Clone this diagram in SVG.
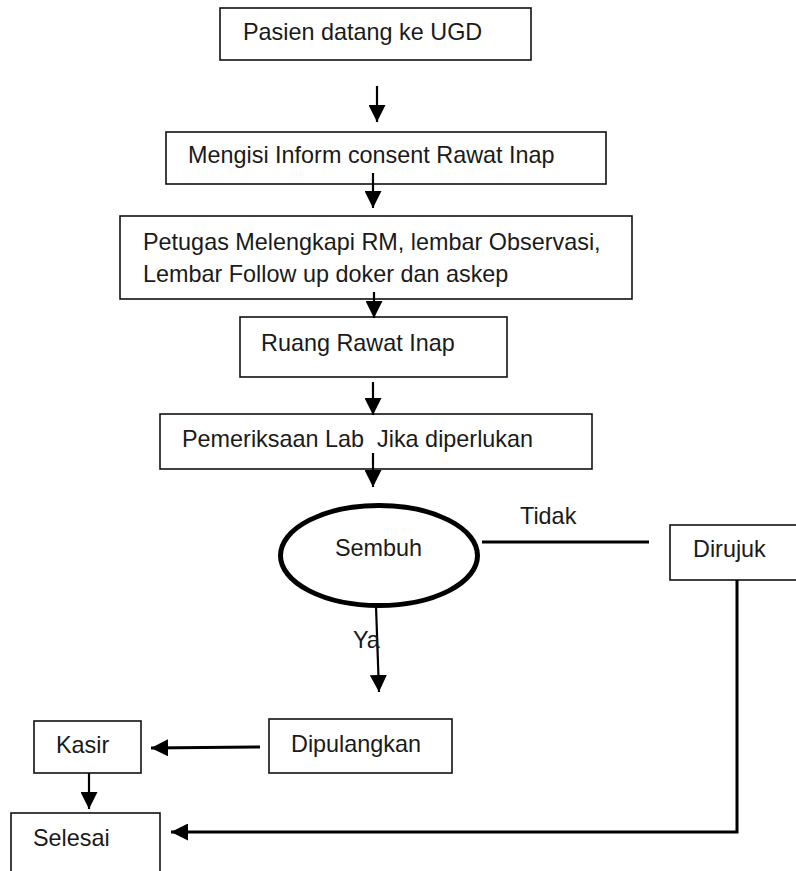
<svg xmlns="http://www.w3.org/2000/svg" width="796" height="871" viewBox="0 0 796 871">
<style>
.box{fill:#fff;stroke:#111;stroke-width:1.6}
.t{font-family:"Liberation Sans",Arial,sans-serif;font-size:23.4px;fill:#1a1a1a}
.pre{white-space:pre}
.c{fill:none;stroke:#000;stroke-width:2.2}
.c3{fill:none;stroke:#000;stroke-width:3}
</style>
<defs>
<marker id="ah" viewBox="0 0 17 17" refX="17" refY="8.5" markerWidth="17" markerHeight="17" markerUnits="userSpaceOnUse" orient="auto">
<path d="M0,0 L17,8.5 L0,17 Z" fill="#000"/>
</marker>
</defs>
<rect width="796" height="871" fill="#fff"/>
<g id="n1"><rect class="box" x="220" y="8" width="311" height="52"/><text class="t" x="243" y="40">Pasien datang ke UGD</text></g>
<g id="n2"><rect class="box" x="166" y="132" width="440" height="52"/><text class="t" x="188" y="163">Mengisi Inform consent Rawat Inap</text></g>
<g id="n3"><rect class="box" x="120" y="216" width="512" height="83"/><text class="t" x="143" y="250">Petugas Melengkapi RM, lembar Observasi,</text><text class="t" x="143" y="282">Lembar Follow up doker dan askep</text></g>
<g id="n4"><rect class="box" x="240" y="317" width="267" height="60"/><text class="t" x="261" y="351">Ruang Rawat Inap</text></g>
<g id="n5"><rect class="box" x="160" y="414" width="432" height="55"/><text class="t pre" x="182" y="447" xml:space="preserve">Pemeriksaan Lab  Jika diperlukan</text></g>
<g id="n6"><ellipse cx="379" cy="555.5" rx="98.5" ry="50" fill="#fff" stroke="#000" stroke-width="5"/><text class="t" x="335" y="556">Sembuh</text></g>
<g id="n7"><rect class="box" x="670" y="525" width="130" height="55"/><text class="t" x="693" y="557">Dirujuk</text></g>
<g id="n8"><rect class="box" x="269" y="719" width="183" height="54"/><text class="t" x="291" y="752">Dipulangkan</text></g>
<g id="n9"><rect class="box" x="34" y="721" width="107" height="52"/><text class="t" x="56" y="753">Kasir</text></g>
<g id="n10"><rect class="box" x="11" y="813" width="149" height="70"/><text class="t" x="33" y="846">Selesai</text></g>
<g id="connectors">
<line class="c" x1="377" y1="86" x2="377" y2="122" marker-end="url(#ah)"/>
<line class="c" x1="373" y1="173" x2="373" y2="208" marker-end="url(#ah)"/>
<line class="c" x1="374" y1="292" x2="374" y2="318" marker-end="url(#ah)"/>
<line class="c" x1="373" y1="382" x2="373" y2="415" marker-end="url(#ah)"/>
<line class="c" x1="373" y1="453" x2="373" y2="487" marker-end="url(#ah)"/>
<line class="c3" x1="482" y1="542" x2="649" y2="542"/>
<text class="t" x="520" y="524">Tidak</text>
<line class="c" x1="376" y1="606" x2="379" y2="692" marker-end="url(#ah)"/>
<text class="t" x="353" y="648">Ya</text>
<line class="c3" x1="260" y1="747" x2="151" y2="748" marker-end="url(#ah)"/>
<line class="c" x1="89" y1="773" x2="89" y2="809" marker-end="url(#ah)"/>
<polyline class="c3" points="737,580 737,832 171,832" marker-end="url(#ah)"/>
</g>
</svg>
